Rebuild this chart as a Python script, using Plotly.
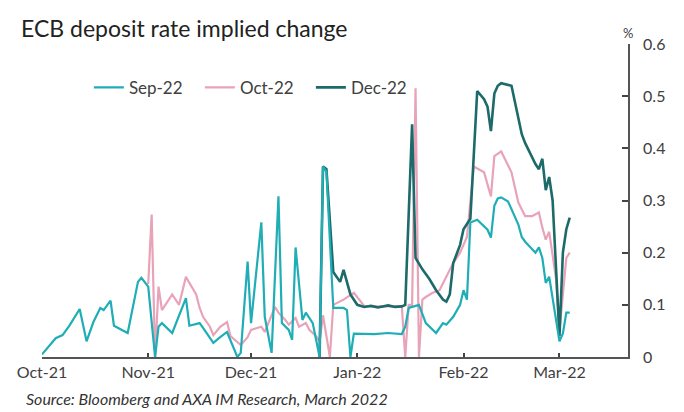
import plotly.graph_objects as go

# ---- data ----
sep_dates = ["2021-10-01","2021-10-03","2021-10-05","2021-10-07","2021-10-09","2021-10-12","2021-10-14","2021-10-16",
             "2021-10-18","2021-10-19","2021-10-20","2021-10-21","2021-10-22","2021-10-26","2021-10-29","2021-10-30",
             "2021-11-01","2021-11-03","2021-11-04","2021-11-05","2021-11-08","2021-11-10","2021-11-12","2021-11-13",
             "2021-11-16","2021-11-17","2021-11-20","2021-11-22","2021-11-24","2021-11-27","2021-11-28","2021-11-30",
             "2021-12-01","2021-12-04","2021-12-05","2021-12-07","2021-12-09","2021-12-10","2021-12-12","2021-12-13",
             "2021-12-14","2021-12-16","2021-12-17","2021-12-19","2021-12-20","2021-12-21","2021-12-22","2021-12-23",
             "2021-12-25","2021-12-28","2021-12-29","2021-12-30","2021-12-31","2022-01-03","2022-01-06","2022-01-10",
             "2022-01-14","2022-01-15","2022-01-16","2022-01-19","2022-01-21","2022-01-24","2022-01-26","2022-01-27",
             "2022-01-29","2022-01-31","2022-02-01","2022-02-02","2022-02-03","2022-02-05","2022-02-08","2022-02-09",
             "2022-02-10","2022-02-11","2022-02-12","2022-02-14","2022-02-15","2022-02-17","2022-02-18","2022-02-19",
             "2022-02-22","2022-02-23","2022-02-24","2022-02-25","2022-02-26","2022-02-27","2022-03-01","2022-03-02",
             "2022-03-03","2022-03-04"]
sep_vals = [0.005,0.02,0.036,0.042,0.06,0.092,0.03,0.067,
            0.094,0.09,0.1,0.108,0.06,0.046,0.144,0.152,
            0.135,0.0,0.058,0.065,0.046,0.08,0.113,0.06,
            0.065,0.056,0.027,0.038,0.048,0.0,0.008,0.183,
            0.065,0.258,0.077,0.008,0.308,0.065,0.052,0.033,
            0.21,0.071,0.085,0.065,0.033,0.0,0.365,0.355,
            0.094,0.094,0.09,0.0,0.045,0.045,0.044,0.046,
            0.044,0.058,0.094,0.1,0.065,0.046,0.065,0.062,
            0.077,0.1,0.128,0.11,0.258,0.263,0.244,0.229,
            0.29,0.304,0.306,0.298,0.283,0.254,0.23,0.221,
            0.2,0.21,0.19,0.142,0.154,0.11,0.03,0.045,
            0.085,0.085]

oct_dates = ["2021-11-01","2021-11-02","2021-11-03","2021-11-04","2021-11-05","2021-11-08","2021-11-10","2021-11-12",
             "2021-11-13","2021-11-15","2021-11-16","2021-11-17","2021-11-19","2021-11-20","2021-11-22","2021-11-24",
             "2021-11-25","2021-11-28","2021-11-30","2021-12-01","2021-12-04","2021-12-05","2021-12-08","2021-12-09",
             "2021-12-11","2021-12-12","2021-12-14","2021-12-15","2021-12-17","2021-12-18","2021-12-20","2021-12-21",
             "2021-12-22","2021-12-24","2021-12-25","2021-12-28","2021-12-31","2022-01-03","2022-01-07","2022-01-14",
             "2022-01-15","2022-01-16","2022-01-17","2022-01-18","2022-01-19","2022-01-20","2022-01-21","2022-01-23",
             "2022-01-25","2022-01-27","2022-01-29","2022-01-31","2022-02-02","2022-02-04","2022-02-07","2022-02-09",
             "2022-02-10","2022-02-12","2022-02-15","2022-02-17","2022-02-19","2022-02-21","2022-02-23","2022-02-24",
             "2022-02-25","2022-02-26","2022-02-28","2022-03-01","2022-03-02","2022-03-03","2022-03-04"]
oct_vals = [0.14,0.273,0.0,0.135,0.09,0.12,0.1,0.154,
            0.142,0.12,0.094,0.077,0.058,0.042,0.058,0.067,
            0.04,0.023,0.038,0.052,0.058,0.048,0.096,0.085,
            0.071,0.062,0.075,0.058,0.065,0.052,0.04,0.03,
            0.08,0.0,0.1,0.11,0.123,0.098,0.097,0.097,
            0.0,0.1,0.1,0.515,0.0,0.11,0.115,0.123,
            0.128,0.154,0.18,0.2,0.23,0.365,0.354,0.308,
            0.385,0.394,0.354,0.296,0.27,0.27,0.277,0.248,
            0.225,0.24,0.15,0.05,0.12,0.19,0.2]

dec_dates = ["2021-12-21","2021-12-22","2021-12-23","2021-12-25","2021-12-27","2021-12-28","2021-12-30","2022-01-01",
             "2022-01-03","2022-01-05","2022-01-07","2022-01-10","2022-01-12","2022-01-14","2022-01-15","2022-01-17",
             "2022-01-18","2022-01-20","2022-01-22","2022-01-24","2022-01-26","2022-01-27","2022-01-28","2022-01-29",
             "2022-01-31","2022-02-01","2022-02-02","2022-02-03","2022-02-05","2022-02-07","2022-02-08","2022-02-09",
             "2022-02-10","2022-02-11","2022-02-12","2022-02-15","2022-02-18","2022-02-19","2022-02-22","2022-02-23",
             "2022-02-24","2022-02-25","2022-02-26","2022-02-27","2022-03-01","2022-03-02","2022-03-03","2022-03-04"]
dec_vals = [0.0,0.365,0.36,0.163,0.144,0.167,0.12,0.1,
            0.096,0.098,0.095,0.099,0.096,0.097,0.1,0.446,
            0.19,0.168,0.15,0.128,0.11,0.106,0.12,0.18,
            0.215,0.245,0.255,0.265,0.51,0.494,0.48,0.433,
            0.505,0.52,0.525,0.52,0.427,0.41,0.37,0.36,
            0.38,0.32,0.345,0.3,0.04,0.2,0.245,0.267]

series_names = ["Sep-22", "Oct-22", "Dec-22"]
colors = {"Sep-22": "#1fadb6", "Oct-22": "#e9a3b8", "Dec-22": "#1d6a6a"}

FONT = "Lato"
GREY = "#404040"

fig = go.Figure()
# draw order: Oct (bottom), Dec, Sep (top); legend order by legendrank
fig.add_trace(go.Scatter(x=oct_dates, y=oct_vals, name="Oct-22", mode="lines",
                         line=dict(color=colors["Oct-22"], width=2.2), legendrank=2))
fig.add_trace(go.Scatter(x=dec_dates, y=dec_vals, name="Dec-22", mode="lines",
                         line=dict(color=colors["Dec-22"], width=2.6), legendrank=3))
fig.add_trace(go.Scatter(x=sep_dates, y=sep_vals, name="Sep-22", mode="lines",
                         line=dict(color=colors["Sep-22"], width=2.2), legendrank=1))

fig.update_layout(
    width=684, height=412,
    margin=dict(l=42, r=56, t=44, b=55),
    paper_bgcolor="white", plot_bgcolor="white",
    font=dict(family=FONT, color=GREY, size=14),
    title=dict(text="ECB deposit rate implied change", x=21/684, xanchor="left",
               xref="container", y=1-29/412, yanchor="middle", yref="container",
               font=dict(family=FONT, size=23, color="#222222")),
    showlegend=True,
    legend=dict(orientation="h", x=0.08, xanchor="left", y=0.86, yanchor="middle",
                font=dict(family=FONT, size=17, color=GREY), bgcolor="rgba(0,0,0,0)",
                traceorder="normal", itemwidth=30,
                entrywidth=66, entrywidthmode="pixels"),
    xaxis=dict(type="date", range=["2021-10-01", "2022-03-21"],
               tick0="2021-10-01", dtick="M1", tickformat="%b-%y",
               ticks="inside", ticklen=4, tickcolor="#444", tickwidth=1.5,
               showline=True, linecolor="#555555", linewidth=1.8,
               showgrid=False, zeroline=False, automargin=False,
               tickfont=dict(family=FONT, size=16, color=GREY)),
    yaxis=dict(side="right", range=[0, 0.6], dtick=0.1, tick0=0,
               ticks="inside", ticklen=6, tickcolor="#444", tickwidth=1.5,
               showline=True, linecolor="#555555", linewidth=1.8,
               showgrid=False, zeroline=False, ticklabelstandoff=10, automargin=False,
               tickfont=dict(family=FONT, size=16, color=GREY)),
)

fig.add_annotation(text="%", xref="paper", yref="paper", x=1, y=1.035,
                   xanchor="center", yanchor="middle", showarrow=False,
                   font=dict(family=FONT, size=13, color=GREY))
fig.add_annotation(text="<i>Source: Bloomberg and AXA IM Research, March 2022</i>",
                   xref="paper", yref="paper", x=(24-42)/586, y=(357-398)/313,
                   xanchor="left", yanchor="middle", showarrow=False,
                   font=dict(family=FONT, size=16, color="#333333"))

fig.write_html("out.html", config={"displayModeBar": False},
               post_script="document.body.style.margin='0';")
